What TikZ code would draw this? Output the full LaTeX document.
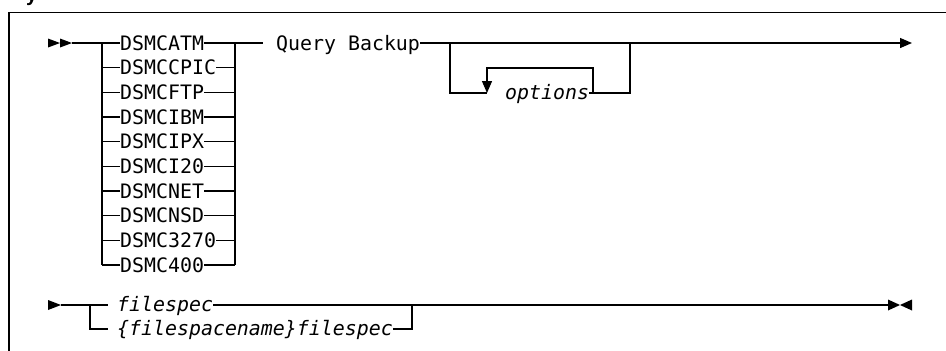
\documentclass[tikz,border=0pt]{standalone}
\usepackage{fontspec}
\newfontfamily\railfont{DejaVu Sans Mono}
\newfontfamily\headfont{Liberation Sans}
\usetikzlibrary{arrows.meta}
\begin{document}
\begin{tikzpicture}[x=1pt,y=-1pt,
  rail/.style={line width=1.3pt},
  frame/.style={line width=1.5pt},
  kw/.style={font=\railfont\fontsize{19.9}{22}\selectfont, inner sep=0pt, anchor=base west},
  var/.style={kw, font=\railfont\itshape\fontsize{19.9}{22}\selectfont},
  tip/.style={-{Triangle[length=12pt,width=10pt]}}
]
\clip (0,0) rectangle (946,351);
\useasboundingbox (0,0) rectangle (946,351);
% heading fragment and frame
\node[font=\headfont\bfseries\fontsize{20}{20}\selectfont, anchor=base west, inner sep=0pt] (hd) at (26,1) {y};
\draw[frame] (9,360) -- (9,12.5) -- (960,12.5);
% ---- first line ----
\coordinate (s1) at (72,43);
\fill (48,38.5) -- (60,43) -- (48,47.5) -- cycle;
\fill (60,38.5) -- (72,43) -- (60,47.5) -- cycle;
\foreach \t [count=\i from 0] in {DSMCATM,DSMCCPIC,DSMCFTP,DSMCIBM,DSMCIPX,DSMCI20,DSMCNET,DSMCNSD,DSMC3270,DSMC400} {
  \pgfmathsetmacro\yy{43+24.67*\i}
  \coordinate (L\i) at (102,\yy);
  \coordinate (R\i) at (235,\yy);
  \node[kw] (c\i) at (120,\yy+7.2) {\t};
  \draw[rail] (L\i) -- (c\i.west |- L\i);
  \draw[rail] (c\i.east |- L\i) -- (R\i);
}
\draw[rail] (s1) -- (L0) -- (L9);
\draw[rail] (R0) -- (R9);
\coordinate (qg) at (263,43);
\draw[rail] (R0) -- (qg);
\node[kw] (q) at (276,50.2) {Query Backup};
% options group
\coordinate (oLt) at (450,43);
\coordinate (oLb) at (450,93);
\coordinate (oRt) at (630,43);
\coordinate (oRb) at (630,93);
\coordinate (lpL) at (487,93);
\coordinate (lpLt) at (487,68);
\coordinate (lpRt) at (593,68);
\coordinate (lpR) at (593,93);
\coordinate (e1) at (912,43);
\node[var] (opt) at (505,99.5) {options};
\draw[rail] (q.east |- qg) -- (oLt) -- (oRt);
\draw[rail,tip] (oRt) -- (e1);
\draw[rail] (oLt) -- (oLb) -- (lpL);
\draw[rail,tip] (lpR) -- (lpRt) -- (lpLt) -- (lpL);
\draw[rail] (opt.east |- oRb) -- (oRb) -- (oRt);
% ---- second line ----
\coordinate (s2) at (61,305);
\fill (48,300) -- (61,305) -- (48,310) -- cycle;
\coordinate (j1) at (90,305);
\coordinate (j1b) at (90,329);
\coordinate (a1) at (108,305);
\coordinate (b1) at (108,329);
\node[var] (f1) at (117,311.5) {filespec};
\node[var] (f2) at (117,335.5) {\{filespacename\}filespec};
\coordinate (j2) at (412,305);
\coordinate (j2b) at (412,329);
\coordinate (e2) at (888,305);
\draw[rail] (s2) -- (j1) -- (a1);
\draw[rail] (j1) -- (j1b) -- (b1);
\draw[rail] (f1.east |- j1) -- (e2);
\draw[rail] (f2.east |- j2b) -- (j2b) -- (j2);
\fill (888,299.5) -- (900,305) -- (888,310.5) -- cycle;
\fill (912,299.5) -- (900,305) -- (912,310.5) -- cycle;
\end{tikzpicture}
\end{document}
